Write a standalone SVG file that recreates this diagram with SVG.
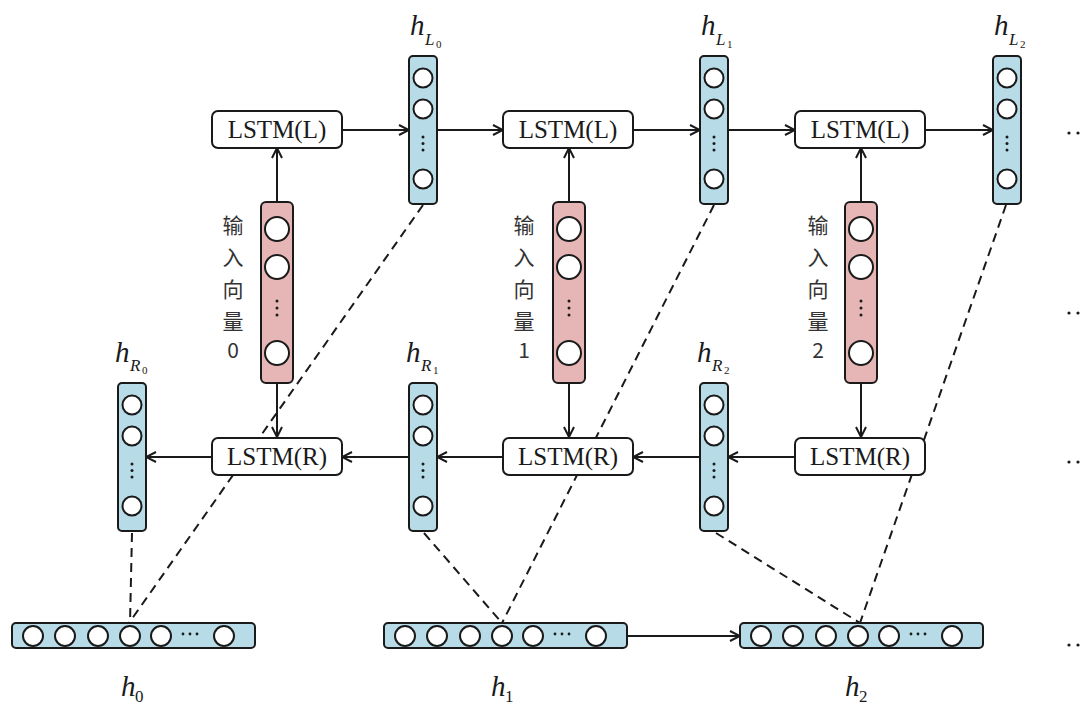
<svg xmlns="http://www.w3.org/2000/svg" width="1083" height="706" viewBox="0 0 1083 706">
  <style>
    .box { fill: #ffffff; stroke: #1a1a1a; stroke-width: 2; }
    .vec { fill: #b7dce8; stroke: #1a1a1a; stroke-width: 2; }
    .inp { fill: #e6b6b6; stroke: #1a1a1a; stroke-width: 2; }
    .cell { fill: #ffffff; stroke: #1a1a1a; stroke-width: 2; }
    .dot { fill: #1a1a1a; }
    .arrow { stroke: #1a1a1a; stroke-width: 2; fill: none; marker-end: url(#head); }
    .dash { stroke: #1a1a1a; stroke-width: 2; fill: none; stroke-dasharray: 9 6; }
    .lstm { font-family: "Liberation Serif", "Times New Roman", serif; font-size: 25px; fill: #1a1a1a; text-anchor: middle; }
    .cap { font-family: "Noto Sans CJK SC", "Noto Sans", sans-serif; font-size: 21px; fill: #333333; text-anchor: middle; }
    .var { font-family: "Liberation Serif", "Times New Roman", serif; font-style: italic; fill: #1a1a1a; }
    .num { font-family: "Liberation Serif", "Times New Roman", serif; fill: #1a1a1a; }
  </style>
  <defs>
    <marker id="head" viewBox="0 0 12 12" markerWidth="12" markerHeight="12" refX="11" refY="6" orient="auto" markerUnits="userSpaceOnUse">
      <path d="M1,1 L11,6 L1,11" fill="none" stroke="#1a1a1a" stroke-width="2"/>
    </marker>
    <!-- vertical hidden-state vector: 3 cells + ellipsis -->
    <g id="vcol">
      <rect class="vec" x="-14" y="0" width="28" height="148" rx="4"/>
      <circle class="cell" cx="0" cy="22" r="9.5"/>
      <circle class="cell" cx="0" cy="53" r="9.5"/>
      <circle class="dot" cx="0" cy="81" r="1.5"/>
      <circle class="dot" cx="0" cy="87.5" r="1.5"/>
      <circle class="dot" cx="0" cy="94" r="1.5"/>
      <circle class="cell" cx="0" cy="123" r="9.5"/>
    </g>
    <!-- input vector column -->
    <g id="icol">
      <rect class="inp" x="-16" y="0" width="32" height="181" rx="5"/>
      <circle class="cell" cx="0" cy="27" r="12"/>
      <circle class="cell" cx="0" cy="65" r="12"/>
      <circle class="dot" cx="0" cy="99" r="1.5"/>
      <circle class="dot" cx="0" cy="106" r="1.5"/>
      <circle class="dot" cx="0" cy="113" r="1.5"/>
      <circle class="cell" cx="0" cy="151" r="12"/>
    </g>
    <!-- horizontal concatenated vector -->
    <g id="hbar">
      <rect class="vec" x="0" y="0" width="243" height="25" rx="4"/>
      <circle class="cell" cx="21" cy="13" r="10"/>
      <circle class="cell" cx="53" cy="13" r="10"/>
      <circle class="cell" cx="86" cy="13" r="10"/>
      <circle class="cell" cx="118" cy="13" r="10"/>
      <circle class="cell" cx="149" cy="13" r="10"/>
      <circle class="dot" cx="171" cy="11" r="1.4"/>
      <circle class="dot" cx="178" cy="11" r="1.4"/>
      <circle class="dot" cx="185" cy="11" r="1.4"/>
      <circle class="cell" cx="212" cy="13" r="10"/>
    </g>
  </defs>

  <!-- connectors -->
  <g id="connectors">
    <!-- dashed projections into the concatenated outputs -->
    <line class="dash" x1="423" y1="205" x2="129" y2="623"/>
    <line class="dash" x1="714" y1="205" x2="502" y2="623"/>
    <line class="dash" x1="1006" y1="205" x2="860" y2="623"/>
    <line class="dash" x1="132" y1="533" x2="130" y2="623"/>
    <line class="dash" x1="424" y1="533" x2="502" y2="623"/>
    <line class="dash" x1="716" y1="533" x2="860" y2="623"/>

    <!-- forward chain -->
    <line class="arrow" x1="342" y1="130" x2="409" y2="130"/>
    <line class="arrow" x1="437" y1="130" x2="503" y2="130"/>
    <line class="arrow" x1="633" y1="130" x2="700" y2="130"/>
    <line class="arrow" x1="728" y1="130" x2="795" y2="130"/>
    <line class="arrow" x1="925" y1="130" x2="993" y2="130"/>

    <!-- backward chain -->
    <line class="arrow" x1="212" y1="457" x2="146" y2="457"/>
    <line class="arrow" x1="410" y1="457" x2="342" y2="457"/>
    <line class="arrow" x1="503" y1="457" x2="437" y2="457"/>
    <line class="arrow" x1="700" y1="457" x2="633" y2="457"/>
    <line class="arrow" x1="795" y1="457" x2="728" y2="457"/>

    <!-- inputs feeding both directions -->
    <line class="arrow" x1="277" y1="202" x2="277" y2="148"/>
    <line class="arrow" x1="277" y1="383" x2="277" y2="437"/>
    <line class="arrow" x1="569" y1="202" x2="569" y2="148"/>
    <line class="arrow" x1="569" y1="383" x2="569" y2="437"/>
    <line class="arrow" x1="861" y1="202" x2="861" y2="148"/>
    <line class="arrow" x1="861" y1="383" x2="861" y2="437"/>

    <line class="arrow" x1="627" y1="636" x2="740" y2="636"/>
  </g>

  <!-- forward LSTM cells -->
  <g id="lstmL0"><rect class="box" x="212" y="111" width="130" height="37" rx="6"/><text class="lstm" x="277" y="138">LSTM(L)</text></g>
  <g id="lstmL1"><rect class="box" x="503" y="111" width="130" height="37" rx="6"/><text class="lstm" x="568" y="138">LSTM(L)</text></g>
  <g id="lstmL2"><rect class="box" x="795" y="111" width="130" height="37" rx="6"/><text class="lstm" x="860" y="138">LSTM(L)</text></g>

  <!-- backward LSTM cells -->
  <g id="lstmR0"><rect class="box" x="212" y="438" width="130" height="37" rx="6"/><text class="lstm" x="277" y="465">LSTM(R)</text></g>
  <g id="lstmR1"><rect class="box" x="503" y="438" width="130" height="37" rx="6"/><text class="lstm" x="568" y="465">LSTM(R)</text></g>
  <g id="lstmR2"><rect class="box" x="795" y="438" width="130" height="37" rx="6"/><text class="lstm" x="860" y="465">LSTM(R)</text></g>

  <!-- forward hidden states -->
  <g id="hL0"><use href="#vcol" x="423" y="56"/>
    <text class="var" x="410" y="35" font-size="29">h</text><text class="var" x="425" y="45" font-size="17">L</text><text class="num" x="436" y="48" font-size="11">0</text></g>
  <g id="hL1"><use href="#vcol" x="714" y="56"/>
    <text class="var" x="701" y="35" font-size="29">h</text><text class="var" x="716" y="45" font-size="17">L</text><text class="num" x="727" y="48" font-size="11">1</text></g>
  <g id="hL2"><use href="#vcol" x="1007" y="56"/>
    <text class="var" x="994" y="35" font-size="29">h</text><text class="var" x="1009" y="45" font-size="17">L</text><text class="num" x="1020" y="48" font-size="11">2</text></g>

  <!-- backward hidden states -->
  <g id="hR0"><use href="#vcol" x="132" y="383"/>
    <text class="var" x="115" y="362" font-size="29">h</text><text class="var" x="130" y="371" font-size="17">R</text><text class="num" x="142" y="374" font-size="11">0</text></g>
  <g id="hR1"><use href="#vcol" x="423" y="383"/>
    <text class="var" x="406" y="362" font-size="29">h</text><text class="var" x="421" y="371" font-size="17">R</text><text class="num" x="433" y="374" font-size="11">1</text></g>
  <g id="hR2"><use href="#vcol" x="714" y="383"/>
    <text class="var" x="697" y="362" font-size="29">h</text><text class="var" x="712" y="371" font-size="17">R</text><text class="num" x="724" y="374" font-size="11">2</text></g>

  <!-- input vectors -->
  <g id="in0"><use href="#icol" x="277" y="202"/>
    <text class="cap" x="233" y="233">输</text><text class="cap" x="233" y="265">入</text><text class="cap" x="233" y="297">向</text><text class="cap" x="233" y="329">量</text><text class="cap" x="233" y="358">0</text></g>
  <g id="in1"><use href="#icol" x="569" y="202"/>
    <text class="cap" x="524" y="233">输</text><text class="cap" x="524" y="265">入</text><text class="cap" x="524" y="297">向</text><text class="cap" x="524" y="329">量</text><text class="cap" x="524" y="358">1</text></g>
  <g id="in2"><use href="#icol" x="861" y="202"/>
    <text class="cap" x="818" y="233">输</text><text class="cap" x="818" y="265">入</text><text class="cap" x="818" y="297">向</text><text class="cap" x="818" y="329">量</text><text class="cap" x="818" y="358">2</text></g>

  <!-- concatenated outputs -->
  <g id="h0"><use href="#hbar" x="12" y="623"/>
    <text class="var" x="121" y="696" font-size="29">h</text><text class="num" x="135" y="702" font-size="17">0</text></g>
  <g id="h1"><use href="#hbar" x="384" y="623"/>
    <text class="var" x="491" y="696" font-size="29">h</text><text class="num" x="505" y="702" font-size="17">1</text></g>
  <g id="h2"><use href="#hbar" x="740" y="623"/>
    <text class="var" x="845" y="696" font-size="29">h</text><text class="num" x="859" y="702" font-size="17">2</text></g>

  <!-- continuation marks -->
  <g id="more">
    <circle class="dot" cx="1069" cy="133" r="1.6"/><circle class="dot" cx="1078" cy="133" r="1.6"/>
    <circle class="dot" cx="1069" cy="313" r="1.6"/><circle class="dot" cx="1078" cy="313" r="1.6"/>
    <circle class="dot" cx="1069" cy="462" r="1.6"/><circle class="dot" cx="1078" cy="462" r="1.6"/>
    <circle class="dot" cx="1069" cy="645" r="1.6"/><circle class="dot" cx="1078" cy="645" r="1.6"/>
  </g>
</svg>
